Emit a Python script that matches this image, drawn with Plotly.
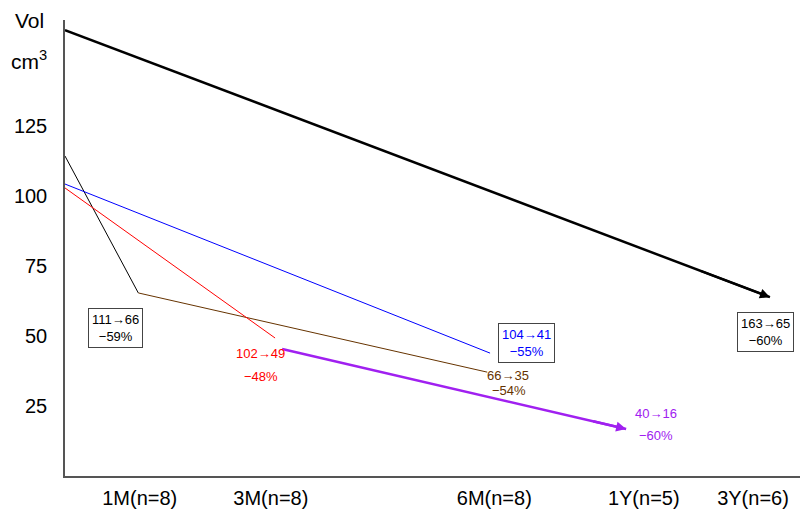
import plotly.graph_objects as go

# ---- data ----
tick_labels = ["1M(n=8)", "3M(n=8)", "6M(n=8)", "1Y(n=5)", "3Y(n=6)"]
y_ticks = [25, 50, 75, 100, 125]

# follow-up position (x) and volume (cm3) for each cohort line
g1m_x = [0, 1.04]
g1m_y = [114.3, 65.4]
g1m_cont_x = [1.04, 5.99]
g1m_cont_y = [65.4, 37.1]
g3m_x = [0, 2.98]
g3m_y = [102.9, 49.3]
g6m_x = [0, 6.03]
g6m_y = [104.3, 43.9]
g1y_x = [3.08, 7.96]
g1y_y = [45.4, 16.8]
g3y_x = [0, 10.0]
g3y_y = [159.3, 63.9]

label_1m = ["111→66", "−59%"]
label_3m = ["102→49", "−48%"]
label_6m = ["104→41", "−55%"]
label_6m_b = ["66→35", "−54%"]
label_1y = ["40→16", "−60%"]
label_3y = ["163→65", "−60%"]

# ---- layout constants ----
tick_pos = [1.06, 2.92, 6.09, 8.21, 9.76]
FONT = "Liberation Sans, Arial, sans-serif"
BLACK = "#000000"
RED = "#ff0000"
BLUE = "#0000ff"
BROWN = "#663300"
PURPLE = "#a020f0"

fig = go.Figure()

def line(x, y, color, width):
    fig.add_trace(go.Scatter(x=x, y=y, mode="lines",
                             line=dict(color=color, width=width),
                             hoverinfo="skip", showlegend=False))

line(g1m_x, g1m_y, BLACK, 1)
line(g1m_cont_x, g1m_cont_y, BROWN, 1)
line(g3m_x, g3m_y, RED, 1)
line(g6m_x, g6m_y, BLUE, 1)
line(g1y_x, g1y_y, PURPLE, 2.5)
line(g3y_x, g3y_y, BLACK, 2.5)

def arrow(x, y, color, width, size):
    # arrowhead at the end of the line; tail a bit back along the same line
    t = 0.9
    ax = x[0] + (x[1] - x[0]) * t
    ay = y[0] + (y[1] - y[0]) * t
    fig.add_annotation(x=x[1], y=y[1], ax=ax, ay=ay, xref="x", yref="y",
                       axref="x", ayref="y", text="", showarrow=True,
                       arrowhead=2, arrowsize=size, arrowwidth=width,
                       arrowcolor=color, standoff=0)

arrow(g1y_x, g1y_y, PURPLE, 2.5, 0.8)
arrow(g3y_x, g3y_y, BLACK, 2, 1.0)

def boxed(x, y, lines, color):
    fig.add_annotation(x=x, y=y, xref="x", yref="y", text="<br>".join(lines),
                       showarrow=False, font=dict(family=FONT, size=13, color=color),
                       bordercolor="#444444", borderwidth=1, borderpad=3,
                       bgcolor="white", align="center")

def plain(x, y, text, color):
    fig.add_annotation(x=x, y=y, xref="x", yref="y", text=text,
                       showarrow=False, font=dict(family=FONT, size=13, color=color))

boxed(0.71, 52.9, label_1m, BLACK)
boxed(6.55, 47.5, label_6m, BLUE)
boxed(9.94, 51.4, label_3y, BLACK)
plain(2.77, 43.9, label_3m[0], RED)
plain(2.78, 35.7, label_3m[1], RED)
plain(6.28, 35.9, label_6m_b[0], BROWN)
plain(6.30, 30.7, label_6m_b[1], BROWN)
plain(8.38, 22.5, label_1y[0], PURPLE)
plain(8.38, 14.6, label_1y[1], PURPLE)

# y-axis title
fig.add_annotation(x=0, y=1, xref="paper", yref="paper", text="Vol",
                   showarrow=False, xanchor="center", yanchor="middle",
                   xshift=-36, yshift=0, font=dict(family=FONT, size=21, color=BLACK))
fig.add_annotation(x=0, y=1, xref="paper", yref="paper", text="cm<sup>3</sup>",
                   showarrow=False, xanchor="center", yanchor="middle",
                   xshift=-36, yshift=-40, font=dict(family=FONT, size=21, color=BLACK))

# the page puts the figure 8px from the top-left corner
fig.update_layout(
    width=800, height=506,
    margin=dict(l=57, r=0, t=12, b=38),
    paper_bgcolor="white", plot_bgcolor="white",
    font=dict(family=FONT, size=20, color=BLACK),
    showlegend=False,
    xaxis=dict(range=[0, 10.54], tickmode="array", tickvals=tick_pos,
               ticktext=tick_labels, showgrid=False, zeroline=False,
               showline=True, linecolor="#555555", linewidth=1.5,
               ticks="", ticklabelstandoff=3,
               tickfont=dict(family=FONT, size=20, color=BLACK)),
    yaxis=dict(range=[0, 162.9], tickmode="array", tickvals=y_ticks,
               ticktext=[str(v) for v in y_ticks], showgrid=False, zeroline=False,
               showline=True, linecolor="#555555", linewidth=1.5,
               ticks="", ticklabelstandoff=12,
               tickfont=dict(family=FONT, size=20, color=BLACK)),
)

fig.write_html("out.html")
